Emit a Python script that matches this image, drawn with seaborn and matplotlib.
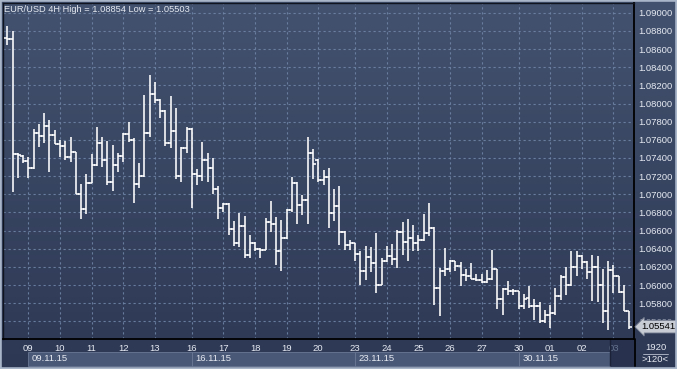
import numpy as np
import pandas as pd
import matplotlib
matplotlib.use('Agg')
import matplotlib.pyplot as plt
import matplotlib.transforms as mtransforms
from matplotlib.colors import LinearSegmentedColormap
from matplotlib.patches import Rectangle
import seaborn as sns

# EUR/USD 4H bars
opens = [1.0872, 1.0871, 1.0744, 1.0742, 1.0737, 1.0729, 1.0767, 1.0764, 1.0775, 1.0765,
         1.0755, 1.0753, 1.0741, 1.0747, 1.0700, 1.0684, 1.0712, 1.0732, 1.0756, 1.0738,
         1.0713, 1.0732, 1.0742, 1.0766, 1.0760, 1.0711, 1.0720, 1.0767, 1.0810, 1.0804,
         1.0792, 1.0756, 1.0770, 1.0720, 1.0751, 1.0772, 1.0722, 1.0720, 1.0738, 1.0729,
         1.0706, 1.0685, 1.0689, 1.0662, 1.0646, 1.0665, 1.0633, 1.0646, 1.0640, 1.0639,
         1.0670, 1.0667, 1.0637, 1.0652, 1.0683, 1.0712, 1.0688, 1.0694, 1.0746, 1.0738,
         1.0716, 1.0719, 1.0679, 1.0687, 1.0658, 1.0644, 1.0646, 1.0634, 1.0615, 1.0631,
         1.0624, 1.0600, 1.0626, 1.0632, 1.0629, 1.0658, 1.0647, 1.0652, 1.0646, 1.0650,
         1.0657, 1.0663, 1.0597, 1.0615, 1.0618, 1.0626, 1.0621, 1.0611, 1.0610, 1.0607,
         1.0606, 1.0603, 1.0607, 1.0618, 1.0585, 1.0596, 1.0593, 1.0594, 1.0577, 1.0586,
         1.0577, 1.0577, 1.0560, 1.0567, 1.0569, 1.0588, 1.0609, 1.0600, 1.0620, 1.0632,
         1.0625, 1.0614, 1.0620, 1.0600, 1.0571, 1.0617, 1.0610, 1.0592, 1.0571]
highs = [1.08854, 1.0880, 1.0746, 1.0743, 1.0741, 1.0772, 1.0777, 1.0790, 1.0782, 1.0771,
         1.0760, 1.0759, 1.0763, 1.0747, 1.0711, 1.0722, 1.0744, 1.0774, 1.0763, 1.0759,
         1.0754, 1.0745, 1.0768, 1.0780, 1.0762, 1.0735, 1.0809, 1.0831, 1.0824, 1.0805,
         1.0793, 1.0808, 1.0795, 1.0752, 1.0774, 1.0773, 1.0728, 1.0758, 1.0745, 1.0740,
         1.0709, 1.0690, 1.0690, 1.0671, 1.0679, 1.0676, 1.0655, 1.0647, 1.0641, 1.0674,
         1.0693, 1.0675, 1.0672, 1.0684, 1.0719, 1.0713, 1.0699, 1.0763, 1.0750, 1.0739,
         1.0727, 1.0729, 1.0706, 1.0709, 1.0660, 1.0650, 1.0646, 1.0638, 1.0643, 1.0642,
         1.0657, 1.0630, 1.0643, 1.0645, 1.0661, 1.0669, 1.0673, 1.0666, 1.0655, 1.0678,
         1.0690, 1.0664, 1.0619, 1.0641, 1.0628, 1.0626, 1.0625, 1.0618, 1.0624, 1.0612,
         1.0612, 1.0617, 1.0639, 1.0618, 1.0597, 1.0604, 1.0596, 1.0594, 1.0590, 1.0599,
         1.0585, 1.0581, 1.0573, 1.0578, 1.0597, 1.0611, 1.0620, 1.0637, 1.0638, 1.0633,
         1.0627, 1.0633, 1.0632, 1.0618, 1.0627, 1.0622, 1.0610, 1.0600, 1.0571]
lows = [1.0864, 1.0702, 1.0718, 1.0735, 1.0718, 1.0728, 1.0752, 1.0757, 1.0725, 1.0755,
        1.0741, 1.0738, 1.0736, 1.0700, 1.0673, 1.0678, 1.0712, 1.0731, 1.0730, 1.0710,
        1.0704, 1.0724, 1.0736, 1.0758, 1.0690, 1.0707, 1.0719, 1.0763, 1.0801, 1.0784,
        1.0753, 1.0751, 1.0717, 1.0713, 1.0746, 1.0685, 1.0710, 1.0715, 1.0713, 1.0700,
        1.0673, 1.0680, 1.0655, 1.0643, 1.0642, 1.0630, 1.0630, 1.0638, 1.0630, 1.0639,
        1.0658, 1.0622, 1.0616, 1.0651, 1.0680, 1.0667, 1.0677, 1.0667, 1.0717, 1.0713,
        1.0710, 1.0663, 1.0671, 1.0644, 1.0639, 1.0639, 1.0627, 1.0600, 1.0606, 1.0614,
        1.0591, 1.0600, 1.0625, 1.0622, 1.0619, 1.0633, 1.0627, 1.0638, 1.0638, 1.0648,
        1.0654, 1.0578, 1.0566, 1.0610, 1.0614, 1.0615, 1.0599, 1.0604, 1.0607, 1.0605,
        1.0602, 1.0602, 1.0606, 1.0574, 1.0567, 1.0589, 1.0589, 1.0574, 1.0574, 1.0575,
        1.0562, 1.0558, 1.0558, 1.0553, 1.0567, 1.0584, 1.0589, 1.0599, 1.0610, 1.0618,
        1.0607, 1.0583, 1.0581, 1.0558, 1.05503, 1.0591, 1.0591, 1.0571, 1.0552]
closes = [1.0871, 1.0744, 1.0743, 1.0737, 1.0729, 1.0767, 1.0764, 1.0775, 1.0765, 1.0755,
          1.0753, 1.0741, 1.0747, 1.0700, 1.0684, 1.0712, 1.0732, 1.0756, 1.0738, 1.0713,
          1.0732, 1.0742, 1.0766, 1.0760, 1.0711, 1.0720, 1.0767, 1.0810, 1.0804, 1.0792,
          1.0756, 1.0770, 1.0720, 1.0751, 1.0772, 1.0722, 1.0720, 1.0738, 1.0729, 1.0706,
          1.0685, 1.0689, 1.0662, 1.0646, 1.0665, 1.0633, 1.0646, 1.0640, 1.0639, 1.0670,
          1.0667, 1.0637, 1.0652, 1.0683, 1.0712, 1.0688, 1.0694, 1.0746, 1.0733, 1.0716,
          1.0719, 1.0679, 1.0687, 1.0658, 1.0644, 1.0646, 1.0634, 1.0615, 1.0631, 1.0624,
          1.0600, 1.0626, 1.0632, 1.0629, 1.0658, 1.0647, 1.0652, 1.0646, 1.0650, 1.0657,
          1.0663, 1.0597, 1.0615, 1.0618, 1.0626, 1.0621, 1.0611, 1.0610, 1.0607, 1.0606,
          1.0603, 1.0607, 1.0618, 1.0585, 1.0596, 1.0593, 1.0594, 1.0577, 1.0585, 1.0577,
          1.0577, 1.0560, 1.0567, 1.0569, 1.0588, 1.0609, 1.0600, 1.0620, 1.0632, 1.0625,
          1.0614, 1.0620, 1.0600, 1.0571, 1.0617, 1.0610, 1.0592, 1.0571, 1.05541]

# first bar of each trading day, and the day/week labels
day_labels = ['09', '10', '11', '12', '13', '16', '17', '18', '19', '20',
              '23', '24', '25', '26', '27', '30', '01', '02', '03']
day_start = [4, 10, 16, 22, 28, 35, 41, 47, 53, 59, 66, 72, 78, 84, 90, 97, 103, 109, 115]
week_labels = ['09.11.15', '16.11.15', '23.11.15', '30.11.15']
week_start = [4, 35, 66, 97]
price_ticks = [1.056, 1.058, 1.060, 1.062, 1.064, 1.066, 1.068, 1.070, 1.072, 1.074,
               1.076, 1.078, 1.080, 1.082, 1.084, 1.086, 1.088, 1.090]

df = pd.DataFrame({'open': opens, 'high': highs, 'low': lows, 'close': closes})
df['bar'] = np.arange(len(df))

sns.set_theme(style='dark')
plt.rcParams['font.family'] = ['Liberation Sans', 'DejaVu Sans']

W, H = 677, 369
txt = '#e6eaf2'

def rect(x0, y0, x1, y1):
    return [x0 / W, 1 - y1 / H, (x1 - x0) / W, (y1 - y0) / H]

fig = plt.figure(figsize=(W / 100, H / 100), dpi=100)

# background gradient for the whole window
bg = fig.add_axes([0, 0, 1, 1])
bg.axis('off')
cmap = LinearSegmentedColormap.from_list('bg', ['#43526f', '#2d3854'])
bg.imshow(np.linspace(0, 1, 256).reshape(-1, 1), aspect='auto', cmap=cmap, extent=(0, 1, 0, 1))
bg.set_xlim(0, 1)
bg.set_ylim(0, 1)

ax = fig.add_axes(rect(3, 3, 634, 339))
ax.patch.set_alpha(0)

# OHLC bars
tick = 0.6
ax.vlines(df['bar'], df['low'], df['high'], color='white', lw=1.15, zorder=3)
ax.hlines(df['open'], df['bar'] - tick, df['bar'], color='white', lw=1.15, zorder=3)
ax.hlines(df['close'], df['bar'], df['bar'] + tick, color='white', lw=1.15, zorder=3)

ax.set_xlim(-0.82, 118.9)
ax.set_ylim(1.05406, 1.09107)

ax.set_yticks(price_ticks)
ax.set_yticklabels([f'{p:.5f}' for p in price_ticks])
ax.yaxis.tick_right()
ax.tick_params(axis='y', length=0, pad=3, labelsize=6.8, labelcolor=txt)
ax.set_xticks(day_start)
ax.set_xticklabels(day_labels)
ax.tick_params(axis='x', length=0, pad=3.5, labelsize=6.8, labelcolor=txt)
ax.get_xticklabels()[-1].set_color('#65738f')
# the price tag sits over the lowest level label, as on the terminal
ax.get_yticklabels()[0].set_alpha(0.55)

ax.grid(True, color='#6f84a6', linestyle=(0, (2, 2.5)), linewidth=0.8, alpha=0.9)
ax.set_axisbelow(True)
for side in ['top', 'left']:
    ax.spines[side].set_color('#10141f')
    ax.spines[side].set_linewidth(1)
for side in ['right', 'bottom']:
    ax.spines[side].set_color('#000000')
    ax.spines[side].set_linewidth(1.3)

ax.text(0.002, 0.995,
        f'EUR/USD 4H High = {max(highs):.5f} Low = {min(lows):.5f}',
        transform=ax.transAxes, ha='left', va='top', fontsize=6.7, color=txt)

# week row under the day labels
trans = mtransforms.blended_transform_factory(ax.transData, ax.transAxes)
ends = week_start[1:] + [day_start[-1] - 0.6]
for lab, s, e in zip(week_labels, week_start, ends):
    ax.add_patch(Rectangle((s, -0.0795), e - s, 0.0415, transform=trans, clip_on=False,
                           fc='#4a5877', ec='#6a7896', lw=0.6, zorder=1))
    ax.text(s + 0.7, -0.0595, lab, transform=trans, ha='left', va='center',
            fontsize=6.8, color=txt, clip_on=False)
ax.add_patch(Rectangle((day_start[-1] - 0.6, -0.0795), 118.9 - day_start[-1] + 0.6, 0.0795,
                       transform=trans, clip_on=False, fc='#28314d', ec='none', zorder=0.5))
ax.vlines(day_start[-1] - 0.6, -0.0795, 0, transform=trans, colors='#1c2238', lw=1, clip_on=False)

# current price tag
ytrans = mtransforms.blended_transform_factory(ax.transAxes, ax.transData)
ax.text(1.012, closes[-1], f'{closes[-1]:.5f}', transform=ytrans, ha='left', va='center',
        fontsize=6.8, color='black', zorder=6,
        bbox=dict(boxstyle='larrow,pad=0.18', fc='#c8ccd4', ec='#7c8496', lw=0.6))

# bars counter box bottom right
fig.text(655.5 / W, 1 - 348 / H, '1920', ha='center', va='center', fontsize=6.8, color=txt)
fig.text(655.5 / W, 1 - 360 / H, '>120<', ha='center', va='center', fontsize=6.8, color=txt)
fig.add_artist(plt.Line2D([643 / W, 668 / W], [1 - 354 / H, 1 - 354 / H], color='#b8c0d0', lw=0.6))
fig.add_artist(plt.Line2D([634.5 / W, 634.5 / W], [1 - 366 / H, 1 - 339 / H], color='black', lw=1.3))

# window frame
fig.add_artist(Rectangle((0, 0), 1, 1, transform=fig.transFigure, fill=False,
                         ec='#a9b5c9', lw=2.6))

fig.savefig('out.png', dpi=100)
